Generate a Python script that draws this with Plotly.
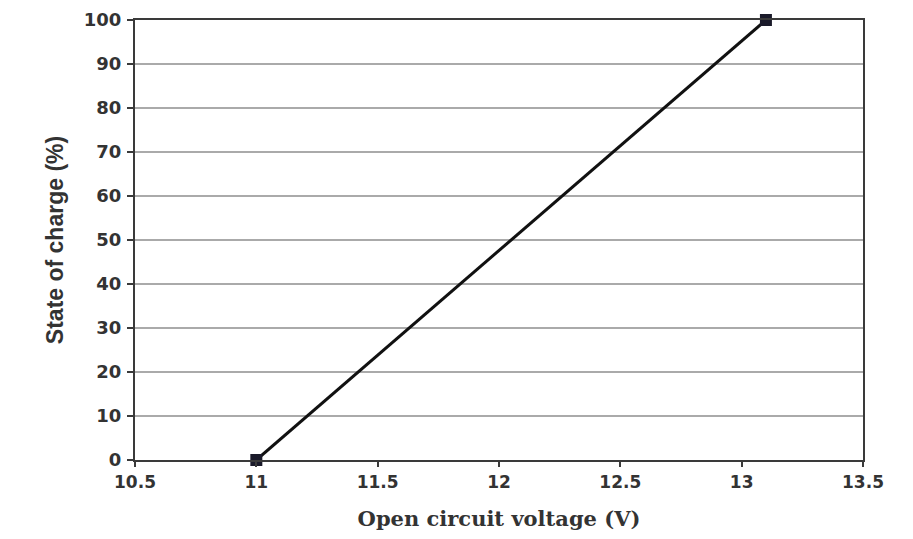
import plotly.graph_objects as go

voltage = [11.0, 13.1]
soc = [0, 100]
x_ticks = [10.5, 11, 11.5, 12, 12.5, 13, 13.5]
x_tick_labels = ["10.5", "11", "11.5", "12", "12.5", "13", "13.5"]
y_ticks = [0, 10, 20, 30, 40, 50, 60, 70, 80, 90, 100]

fig = go.Figure()
fig.add_trace(go.Scatter(
    x=voltage, y=soc, mode="lines+markers",
    line=dict(color="#111111", width=3),
    marker=dict(symbol="square", size=12, color="#1a1a2a"),
    cliponaxis=False, showlegend=False,
))

fig.update_layout(
    width=913, height=539,
    margin=dict(l=127, r=58, t=12, b=87),
    paper_bgcolor="white", plot_bgcolor="white",
    xaxis=dict(
        range=[10.5, 13.5], tickvals=x_ticks, ticktext=x_tick_labels,
        automargin=False,
        showgrid=False, zeroline=False,
        showline=True, linecolor="#3a3a3a", linewidth=2, mirror=True,
        ticks="outside", ticklen=5, tickwidth=2, tickcolor="#3a3a3a",
        ticklabelstandoff=1,
        tickfont=dict(family="DejaVu Sans", size=17, color="#333333", weight="bold"),
        title=dict(text="Open circuit voltage (V)", standoff=20,
                   font=dict(family="DejaVu Serif", size=21, color="#333333", weight="bold")),
    ),
    yaxis=dict(
        range=[0, 100], tickvals=y_ticks,
        automargin=False,
        showgrid=True, gridcolor="#aaaaaa", gridwidth=2, zeroline=False,
        showline=True, linecolor="#3a3a3a", linewidth=2, mirror=True,
        ticks="outside", ticklen=6, tickwidth=2, tickcolor="#3a3a3a",
        ticklabelstandoff=2,
        tickfont=dict(family="DejaVu Sans", size=18, color="#333333", weight="bold"),
        title=dict(text="State of charge (%)", standoff=14,
                   font=dict(family="Liberation Sans", size=23, color="#333333", weight="bold")),
    ),
)

fig.write_html("out.html")
